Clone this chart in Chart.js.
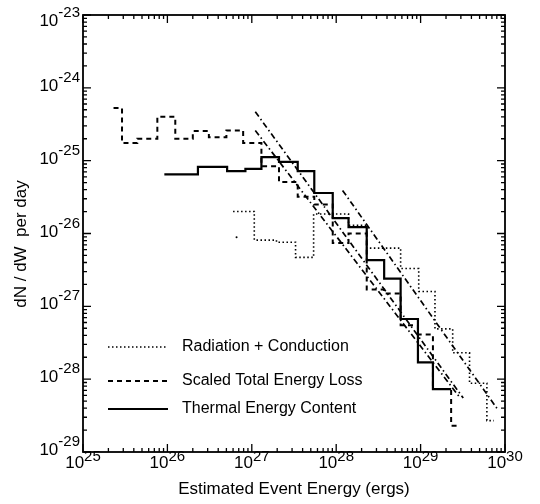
<!DOCTYPE html>
<html>
<head>
<meta charset="utf-8">
<script src="https://cdn.jsdelivr.net/npm/chart.js@4.4.1/dist/chart.umd.min.js"></script>
<style>
  html, body { margin: 0; padding: 0; background: #fff; }
</style>
</head>
<body>
<canvas id="grafico" width="540" height="504"></canvas>
<script>
const xExpoentes = [25, 26, 27, 28, 29, 30];
const yExpoentes = [-29, -28, -27, -26, -25, -24, -23];

// Radiation + Conduction (pontilhado): bordas dos bins e valores
const radBordas = [6.0e26, 1.07e27, 1.96e27, 3.3e27, 5.4e27, 9.0e27, 1.4e28, 2.3e28, 3.7e28, 5.8e28, 9.5e28, 1.48e29, 2.4e29, 3.8e29, 6.1e29, 7.4e29];
const radValores = [2.0e-26, 8.1e-27, 7.6e-27, 4.7e-27, 1.85e-26, 1.85e-26, 1.3e-26, 6.3e-27, 6.3e-27, 3.3e-27, 1.6e-27, 4.9e-28, 2.3e-28, 8.8e-29, 2.7e-29];

// Scaled Total Energy Loss (tracejado)
const perdaBordas = [2.3e25, 2.9e25, 4.4e25, 7.6e25, 1.24e26, 2.0e26, 3.1e26, 5.0e26, 7.9e26, 1.3e27, 2.1e27, 3.5e27, 5.5e27, 9.1e27, 1.4e28, 2.3e28, 3.7e28, 5.8e28, 9.3e28, 1.4e29, 2.3e29, 2.8e29];
const perdaValores = [5.3e-25, 1.75e-25, 2.0e-25, 4.0e-25, 2.0e-25, 2.55e-25, 2.1e-25, 2.6e-25, 1.75e-25, 8.4e-26, 5.1e-26, 3.2e-26, 2.5e-26, 7.4e-27, 1.0e-26, 1.7e-27, 1.5e-27, 5.5e-28, 4.1e-28, 7.3e-29, 2.3e-29];

// Thermal Energy Content (contínuo)
const termBordas = [9.2e25, 2.3e26, 5.1e26, 8.4e26, 1.3e27, 2.1e27, 3.5e27, 5.5e27, 9.1e27, 1.4e28, 2.3e28, 3.7e28, 5.8e28, 9.3e28, 1.4e29, 2.3e29];
const termValores = [6.5e-26, 8.2e-26, 7.2e-26, 7.7e-26, 1.12e-25, 9.6e-26, 7.2e-26, 3.6e-26, 1.63e-26, 1.22e-26, 4.3e-27, 2.4e-27, 6.7e-28, 1.7e-28, 7.3e-29];

// retas de ajuste (traço-ponto)
const ajuste1X = [1.1e27, 3.2e29];
const ajuste1Y = [4.7e-25, 5.5e-29];
const ajuste2X = [1.1e27, 2.85e29];
const ajuste2Y = [2.6e-25, 5.8e-29];
const ajuste3X = [1.19e28, 8.0e29];
const ajuste3Y = [3.9e-26, 4.0e-29];

// ponto solto perto do pontilhado
const pontoX = [6.6e26];
const pontoY = [8.9e-27];

const legendas = ['Radiation + Conduction', 'Scaled Total Energy Loss', 'Thermal Energy Content'];

const FONTE = '"Liberation Sans", Arial, Helvetica, sans-serif';

function degraus(bordas, valores) {
  return bordas.map((x, i) => ({ x, y: valores[Math.min(i, valores.length - 1)] }));
}

function pares(xs, ys) {
  return xs.map((x, i) => ({ x, y: ys[i] }));
}

function marcas(expoentes) {
  const lista = [];
  expoentes.forEach((e, i) => {
    lista.push({ value: Math.pow(10, e), major: true });
    if (i < expoentes.length - 1) {
      for (let m = 2; m <= 9; m++) lista.push({ value: m * Math.pow(10, e), major: false });
    }
  });
  return lista;
}

const estiloHist = { stepped: 'before', pointRadius: 0, fill: false, borderColor: '#000', tension: 0 };
const estiloAjuste = { pointRadius: 0, fill: false, borderColor: '#000', borderWidth: 1.7, borderDash: [6, 3, 1.5, 3] };

const eixos = {
  id: 'eixos',
  afterDraw(chart) {
    const { ctx, chartArea: a, scales: { x, y } } = chart;
    ctx.save();
    ctx.strokeStyle = '#000';
    ctx.fillStyle = '#000';
    ctx.lineWidth = 1.8;
    ctx.setLineDash([]);
    ctx.strokeRect(a.left, a.top, a.right - a.left, a.bottom - a.top);

    ctx.lineWidth = 1.3;
    x.ticks.forEach(t => {
      const px = x.getPixelForValue(t.value);
      const len = t.major ? 8 : 4;
      ctx.beginPath();
      ctx.moveTo(px, a.bottom); ctx.lineTo(px, a.bottom - len);
      ctx.moveTo(px, a.top); ctx.lineTo(px, a.top + len);
      ctx.stroke();
    });
    y.ticks.forEach(t => {
      const py = y.getPixelForValue(t.value);
      const len = t.major ? 8 : 4;
      ctx.beginPath();
      ctx.moveTo(a.left, py); ctx.lineTo(a.left + len, py);
      ctx.moveTo(a.right, py); ctx.lineTo(a.right - len, py);
      ctx.stroke();
    });

    const fBase = '17px ' + FONTE;
    const fExp = '15px ' + FONTE;
    ctx.textBaseline = 'alphabetic';
    ctx.textAlign = 'left';
    xExpoentes.forEach(e => {
      const px = x.getPixelForValue(Math.pow(10, e));
      ctx.font = fBase;
      const w1 = ctx.measureText('10').width;
      ctx.font = fExp;
      const w2 = ctx.measureText(String(e)).width;
      const x0 = px - (w1 + w2) / 2;
      ctx.font = fBase;
      ctx.fillText('10', x0, a.bottom + 16);
      ctx.font = fExp;
      ctx.fillText(String(e), x0 + w1, a.bottom + 9);
    });
    yExpoentes.forEach(e => {
      const py = y.getPixelForValue(Math.pow(10, e));
      const desce = Math.max(0, 17 - (py - 6));
      ctx.font = fExp;
      const txt = String(e);
      const w2 = ctx.measureText(txt).width;
      ctx.font = fBase;
      const w1 = ctx.measureText('10').width;
      const xr = a.left - 3;
      ctx.fillText('10', xr - w2 - w1, py + 3 + desce);
      ctx.font = fExp;
      ctx.fillText(txt, xr - w2, py - 6 + desce);
    });

    ctx.font = '17px ' + FONTE;
    ctx.textAlign = 'center';
    ctx.textBaseline = 'middle';
    ctx.fillText('Estimated Event Energy (ergs)', (a.left + a.right) / 2, a.bottom + 37);
    ctx.save();
    ctx.translate(21, 244);
    ctx.rotate(-Math.PI / 2);
    ctx.fillText('dN / dW  per day', 0, 0);
    ctx.restore();

    // legenda
    const ys = [a.bottom - 105, a.bottom - 71, a.bottom - 43];
    ctx.font = '16px ' + FONTE;
    ctx.textAlign = 'left';
    chart.data.datasets.slice(0, 3).forEach((ds, i) => {
      ctx.lineWidth = ds.borderWidth;
      ctx.setLineDash(ds.borderDash || []);
      ctx.beginPath();
      ctx.moveTo(a.left + 25, ys[i]);
      ctx.lineTo(a.left + 85, ys[i]);
      ctx.stroke();
      ctx.setLineDash([]);
      ctx.fillText(legendas[i], a.left + 99, ys[i]);
    });
    ctx.restore();
  }
};

const semTamanho = s => { if (s.isHorizontal()) s.height = 0; else s.width = 0; };

const ctx = document.getElementById('grafico').getContext('2d');
new Chart(ctx, {
  type: 'line',
  data: {
    datasets: [
      { ...estiloHist, label: legendas[0], data: degraus(radBordas, radValores), borderWidth: 1.6, borderDash: [1.5, 2.5] },
      { ...estiloHist, label: legendas[1], data: degraus(perdaBordas, perdaValores), borderWidth: 2, borderDash: [5, 4] },
      { ...estiloHist, label: legendas[2], data: degraus(termBordas, termValores), borderWidth: 2.2 },
      { ...estiloAjuste, label: 'fit1', data: pares(ajuste1X, ajuste1Y) },
      { ...estiloAjuste, label: 'fit2', data: pares(ajuste2X, ajuste2Y) },
      { ...estiloAjuste, label: 'fit3', data: pares(ajuste3X, ajuste3Y) },
      { type: 'scatter', label: 'ponto', data: pares(pontoX, pontoY), pointRadius: 1, backgroundColor: '#000', borderWidth: 0, showLine: false }
    ]
  },
  options: {
    responsive: false,
    animation: false,
    devicePixelRatio: 1,
    parsing: false,
    layout: { padding: { left: 83, right: 35, top: 15, bottom: 52 } },
    plugins: { legend: { display: false }, tooltip: { enabled: false } },
    scales: {
      x: {
        type: 'logarithmic', min: 1e25, max: 1e30,
        ticks: { display: false }, grid: { display: false, drawTicks: false }, border: { display: false },
        afterBuildTicks: s => { s.ticks = marcas(xExpoentes); },
        afterFit: semTamanho
      },
      y: {
        type: 'logarithmic', min: 1e-29, max: 1e-23,
        ticks: { display: false }, grid: { display: false, drawTicks: false }, border: { display: false },
        afterBuildTicks: s => { s.ticks = marcas(yExpoentes); },
        afterFit: semTamanho
      }
    }
  },
  plugins: [eixos]
});
</script>
</body>
</html>
